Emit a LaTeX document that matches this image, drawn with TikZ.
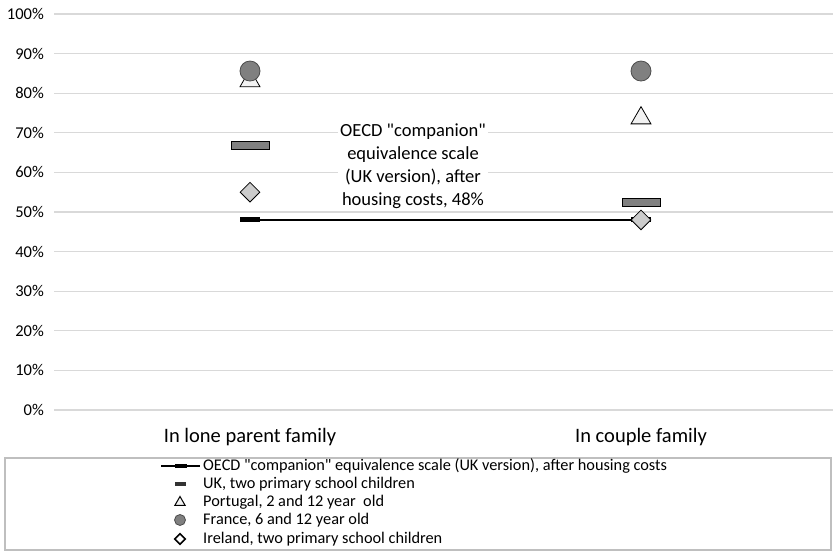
\documentclass[tikz,border=0pt]{standalone}
\usepackage{fontspec}
\setmainfont{Carlito}[Ligatures=TeXOff]
\usepackage{xcolor}
\usetikzlibrary{shapes.geometric,positioning}
\definecolor{gridgray}{HTML}{D9D9D9}
\definecolor{framegray}{HTML}{BFBFBF}

\begin{document}
\begin{tikzpicture}[x=1pt, y=1pt,
  gridline/.style={gridgray, line width=1.3pt},
  ticklabel/.style={anchor=east, inner sep=0pt, font=\fontsize{16.5}{18}\selectfont},
  catlabel/.style={inner sep=0pt, font=\fontsize{20.5}{24}\selectfont},
  frmark/.style={circle, draw=black!70, fill=black!50, minimum size=20pt, inner sep=0pt, line width=0.8pt},
  ptmark/.style={regular polygon, regular polygon sides=3, draw=black, fill=black!5, minimum size=23pt, inner sep=0pt, line width=0.8pt},
  ukmark/.style={rectangle, draw=black, fill=black!50, minimum width=38pt, minimum height=8pt, inner sep=0pt, line width=0.8pt},
  iemark/.style={diamond, draw=black, fill=black!20, minimum width=20pt, minimum height=20pt, inner sep=0pt, line width=0.8pt},
  oecdmark/.style={rectangle, fill=black, minimum width=20pt, minimum height=5pt, inner sep=0pt},
  oecdline/.style={black, line width=2.6pt},
  note/.style={fill=white, align=center, inner sep=2pt, font=\fontsize{18.5}{23}\selectfont},
  legendtext/.style={anchor=west, inner sep=0pt, font=\fontsize{16.3}{18}\selectfont}]
  \useasboundingbox (0,0) rectangle (833,551);

  % chart area, y in percent
  \begin{scope}[shift={(0,141)}, y=3.96pt]
    \foreach \p in {0,10,...,100} {
      \draw[gridline] (54,\p) -- (833,\p);
      \node[ticklabel] (tick\p) at (44,\p) {\p\%};
    }
    % OECD companion scale
    \node[oecdmark] (oecdL) at (250,48) {};
    \node[oecdmark] (oecdC) at (641,48) {};
    \draw[oecdline] (oecdL.center) -- (oecdC.center);
    % UK
    \node[ukmark] (ukL) at (250,66.9) {};
    \node[ukmark] (ukC) at (641,52.3) {};
    % Portugal
    \node[ptmark] (ptL) at (250,83.1) {};
    \node[ptmark] (ptC) at (641,73.7) {};
    % France
    \node[frmark] (frL) at (250,85.6) {};
    \node[frmark] (frC) at (641,85.6) {};
    % Ireland
    \node[iemark] (ieL) at (250,55) {};
    \node[iemark] (ieC) at (641,48) {};
    \node[note] (oecdnote) at (413,61.6) {OECD "companion"\\equivalence scale\\(UK version), after\\housing costs, 48\%};
  \end{scope}

  \node[catlabel] (catL) at (250,114) {In lone parent family};
  \node[catlabel] (catC) at (641,114) {In couple family};

  % legend
  \draw[framegray, line width=1.2pt] (5,1) rectangle (831,93);
  \coordinate (lgA) at (161,85);
  \coordinate (lgB) at (200,85);
  \draw[black, line width=2pt] (lgA) -- (lgB);
  \node[oecdmark, minimum width=12pt, minimum height=4pt] (lgoecd) at (181,85) {};
  \node[legendtext] (txoecd) at (203,85) {OECD "companion" equivalence scale (UK version), after housing costs};
  \node[rectangle, fill=black!80, minimum width=11pt, minimum height=3.5pt, inner sep=0pt] (lguk) at (180,67) {};
  \node[legendtext] (txuk) at (203,67) {UK, two primary school children};
  \node[ptmark, minimum size=12pt, line width=1pt] (lgpt) at (180,48.5) {};
  \node[legendtext] (txpt) at (203,49) {Portugal, 2 and 12 year\ \ old};
  \node[frmark, minimum size=11pt] (lgfr) at (180,31) {};
  \node[legendtext] (txfr) at (203,31) {France, 6 and 12 year old};
  \node[iemark, minimum width=11pt, minimum height=11pt, line width=1.6pt, fill=white] (lgie) at (180,12) {};
  \node[legendtext] (txie) at (203,12) {Ireland, two primary school children};
\end{tikzpicture}
\end{document}
